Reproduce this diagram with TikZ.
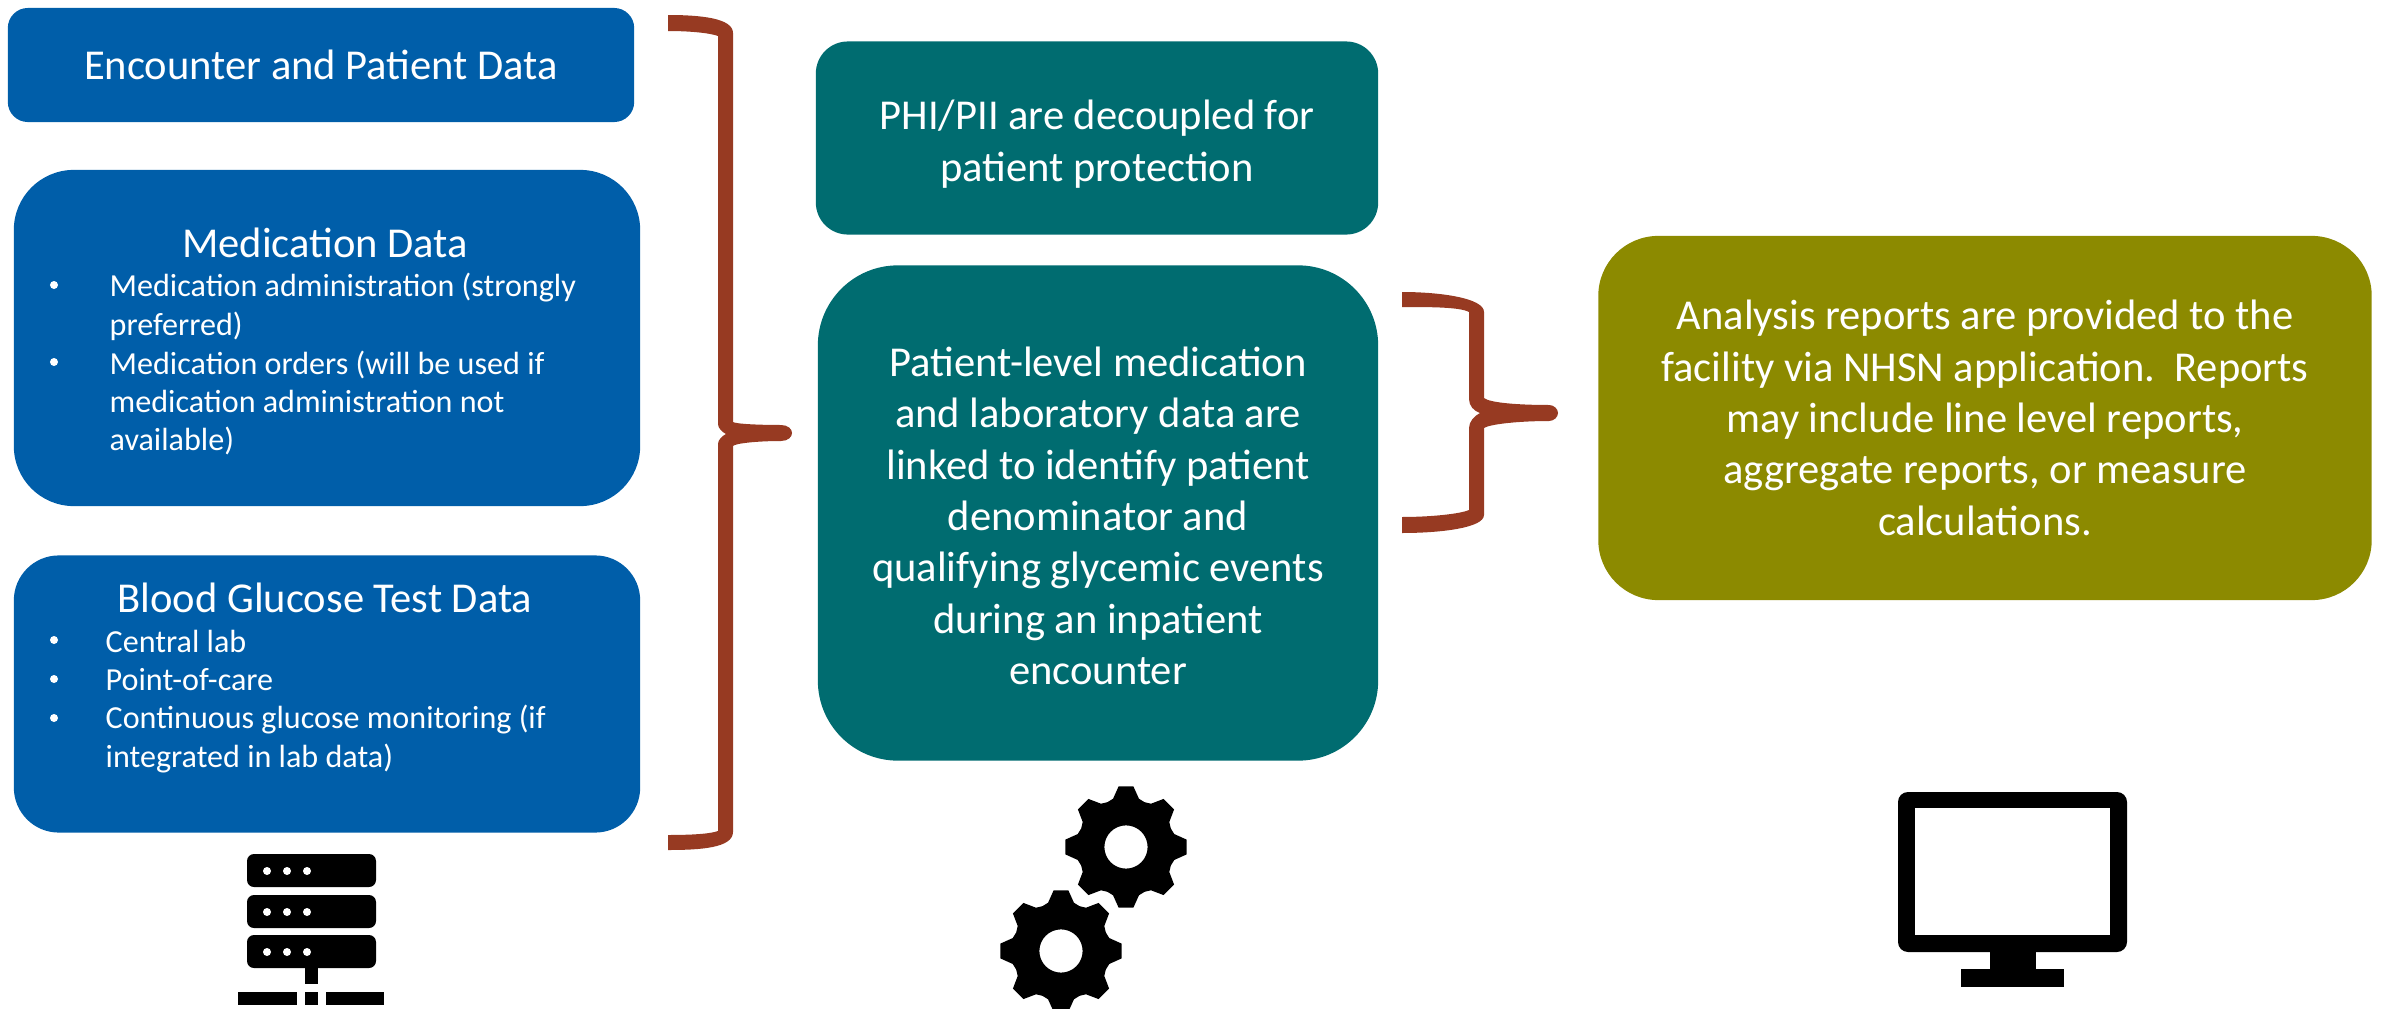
\documentclass[tikz,border=0pt]{standalone}
\usepackage{fontspec}
\setmainfont{Carlito}
\definecolor{boxblue}{HTML}{005EA9}
\definecolor{boxteal}{HTML}{006C70}
\definecolor{boxolive}{HTML}{8C8A00}
\definecolor{bracered}{HTML}{973A22}
\tikzset{
  databox/.style={fill=boxblue,text=white,inner sep=0pt,align=center},
  linkbox/.style={fill=boxteal,inner sep=0pt},
  linktext/.style={text=white,inner sep=0pt,align=center,font=\fontsize{12.1}{14.6}\selectfont},
  reportbox/.style={fill=boxolive,text=white,inner sep=0pt,align=center,font=\fontsize{12.1}{14.6}\selectfont},
  listtitle/.style={text=white,inner sep=0pt,font=\fontsize{12.1}{16}\selectfont},
  listtext/.style={text=white,inner sep=0pt,anchor=west,align=left,font=\fontsize{9.13}{10.9}\selectfont},
  listdot/.style={circle,fill=white,inner sep=0pt,minimum size=0.08cm},
}
\begin{document}
\begin{tikzpicture}[x=0.01cm,y=-0.01cm]
\useasboundingbox (0,0) rectangle (2384,1009);

% draw data boxes
\node[databox,rounded corners=0.2cm,minimum width=6.26cm,minimum height=1.14cm,font=\fontsize{12.1}{16}\selectfont] (encounter) at (321,65) {Encounter and Patient Data};
\node[databox,rounded corners=0.6cm,minimum width=6.26cm,minimum height=3.36cm] (medication) at (327,338) {};
\node[databox,rounded corners=0.45cm,minimum width=6.26cm,minimum height=2.77cm] (glucose) at (327,694) {};

% draw medication list
\node[listtitle] (medtitle) at (325,243) {Medication Data};
\node[listdot] (meddota) at (54,285) {};
\node[listtext] (meditema) at (109,307) {Medication administration (strongly\\preferred)};
\node[listdot] (meddotb) at (54,362) {};
\node[listtext] (meditemb) at (109,403) {Medication orders (will be used if\\medication administration not\\available)};

% draw glucose list
\node[listtitle] (glutitle) at (325,598) {Blood Glucose Test Data};
\node[listdot] (gludota) at (54,640) {};
\node[listtext] (gluitema) at (105,641) {Central lab};
\node[listdot] (gludotb) at (54,679) {};
\node[listtext] (gluitemb) at (105,680) {Point-of-care};
\node[listdot] (gludotc) at (54,718) {};
\node[listtext] (gluitemc) at (105,739) {Continuous glucose monitoring (if\\integrated in lab data)};

% draw linking boxes
\node[linkbox,rounded corners=0.32cm,minimum width=5.62cm,minimum height=1.93cm] (decouple) at (1097,138) {};
\node[linktext] (decoupletext) at (1097,144) {PHI/PII are decoupled for\\patient protection};
\node[linkbox,rounded corners=0.8cm,minimum width=5.6cm,minimum height=4.95cm] (linked) at (1098,513) {};
\node[linktext] (linkedtext) at (1098,516) {Patient-level medication\\and laboratory data are\\linked to identify patient\\denominator and\\qualifying glycemic events\\during an inpatient\\encounter};

% draw report box
\node[reportbox,rounded corners=0.6cm,minimum width=7.73cm,minimum height=3.64cm] (report) at (1985,418) {Analysis reports are provided to the\\facility via NHSN application.\ \ Reports\\may include line level reports,\\aggregate reports, or measure\\calculations.};

% draw left brace
\fill[bracered] (668,15) .. controls (700,15) and (733,18) .. (733,33) -- (733,422)
  .. controls (736,424) and (760,425) .. (781,425)
  .. controls (788,425) and (792,429) .. (792,433)
  .. controls (792,437) and (788,441) .. (781,441)
  .. controls (760,441) and (736,443) .. (733,446) -- (733,832)
  .. controls (733,848) and (700,850) .. (668,850) -- (668,835)
  .. controls (690,835) and (710,834) .. (718,831) -- (718,444)
  .. controls (718,440) and (722,436) .. (726,434)
  .. controls (722,432) and (718,428) .. (718,424) -- (718,36)
  .. controls (710,33) and (690,31) .. (668,31) -- cycle;

% draw middle brace
\fill[bracered] (1402,292) .. controls (1440,292) and (1484,298) .. (1484,312) -- (1484,398)
  .. controls (1490,403) and (1520,405) .. (1549,405)
  .. controls (1554,405) and (1558,409) .. (1558,413)
  .. controls (1558,417) and (1554,421) .. (1549,421)
  .. controls (1520,421) and (1490,424) .. (1484,428) -- (1484,515)
  .. controls (1484,528) and (1440,533) .. (1402,533) -- (1402,517)
  .. controls (1430,517) and (1460,514) .. (1469,510) -- (1469,428)
  .. controls (1469,422) and (1474,416) .. (1480,413)
  .. controls (1474,411) and (1469,406) .. (1469,399) -- (1469,312)
  .. controls (1460,307) and (1430,307) .. (1402,307) -- cycle;

% draw server
\begin{scope}[shift={(247,854)}]
\foreach \y in {0,41,81} {
  \fill[black,rounded corners=0.07cm] (0,\y) rectangle (129,\y+33);
  \foreach \x in {20,40,60} \fill[white] (\x,\y+17) circle (0.04cm);
}
\fill[black] (58,114) rectangle (71,130);
\fill[black] (-9,138) rectangle (50,151);
\fill[black] (58,138) rectangle (71,151);
\fill[black] (79,138) rectangle (137,151);
\end{scope}

% draw gears
\foreach \cx/\cy in {1126/847,1061/951} {
\begin{scope}[shift={(\cx,\cy)}]
\fill[black,even odd rule] (-7:61)
  \foreach \a in {0,45,...,315} {
    -- (\a+7:61) -- (\a+15:50) -- (\a+22.5:48.5) -- (\a+30:50) -- (\a+38:61)
  } -- cycle (0,0) circle (0.216cm);
\end{scope}
}

% draw monitor
\fill[black,rounded corners=0.1cm] (1898,792) rectangle (2127,952);
\fill[white] (1915,808) rectangle (2110,935);
\fill[black] (1990,950) rectangle (2036,970);
\fill[black] (1961,969) rectangle (2064,987);

\end{tikzpicture}
\end{document}
